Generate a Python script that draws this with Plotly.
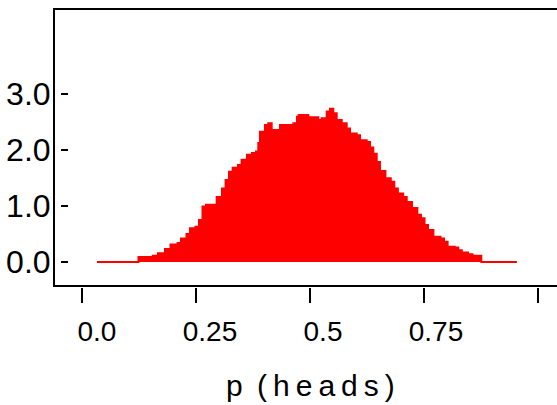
import plotly.graph_objects as go

# Step-density outline (p, density)
p_edges = [0.0, 0.0918, 0.1235, 0.135, 0.1504, 0.1626, 0.1783, 0.1858, 0.198, 0.2058,
           0.2177, 0.2257, 0.2334, 0.2412, 0.2648, 0.2765, 0.2845, 0.292, 0.3002, 0.3119,
           0.3199, 0.3319, 0.3429, 0.3518, 0.3569, 0.3606, 0.3717, 0.379, 0.3865, 0.4049,
           0.4343, 0.4425, 0.446, 0.4675, 0.4896, 0.4971, 0.5082, 0.5155, 0.5228, 0.5303,
           0.5414, 0.5524, 0.5597, 0.5746, 0.5819, 0.5967, 0.604, 0.6113, 0.6188, 0.6261,
           0.6381, 0.65, 0.6577, 0.6657, 0.6774, 0.6852, 0.6969, 0.7088, 0.7168, 0.7246,
           0.7323, 0.7442, 0.76, 0.7677, 0.7757, 0.7914, 0.7993, 0.8071, 0.8208, 0.8308,
           0.8502, 0.929]
density = [0.0, 0.09, 0.11, 0.155, 0.23, 0.31, 0.34, 0.42, 0.50, 0.60,
           0.63, 0.75, 0.99, 1.02, 1.16, 1.31, 1.46, 1.61, 1.68, 1.73,
           1.82, 1.91, 1.94, 1.97, 2.12, 2.32, 2.44, 2.47, 2.35, 2.44,
           2.47, 2.59, 2.62, 2.58, 2.53, 2.56, 2.68, 2.73, 2.65, 2.53,
           2.47, 2.38, 2.29, 2.26, 2.17, 2.14, 2.04, 1.93, 1.78, 1.62,
           1.49, 1.43, 1.31, 1.22, 1.16, 1.07, 0.96, 0.84, 0.78, 0.66,
           0.57, 0.45, 0.42, 0.36, 0.27, 0.26, 0.21, 0.17, 0.14, 0.11,
           0.0, 0.0]

x_tickvals = [0.0, 0.25, 0.5, 0.75]
x_ticktext = ["0.0", "0.25", "0.5", "0.75"]
y_tickvals = [0.0, 1.0, 2.0, 3.0]
y_ticktext = ["0.0", "1.0", "2.0", "3.0"]
x_title = "p \u2009(\u2009h\u2009e\u2009a\u2009d\u2009s\u2009)"

FONT = "Liberation Sans, Arial, sans-serif"
XR = [-0.0929, 1.0177]
YR = [-0.41, 4.49]

fig = go.Figure()
fig.add_trace(go.Scatter(
    x=p_edges, y=density, mode="lines", line=dict(color="#ff0000", width=2, shape="hv"),
    fill="tozeroy", fillcolor="#ff0000", hoverinfo="skip", showlegend=False))
# invisible helper traces for the tick-only axes
fig.add_trace(go.Scatter(x=[0.5], y=[0], xaxis="x2", yaxis="y", mode="markers",
                         marker=dict(opacity=0), showlegend=False, hoverinfo="skip"))
fig.add_trace(go.Scatter(x=[0.5], y=[0], xaxis="x", yaxis="y2", mode="markers",
                         marker=dict(opacity=0), showlegend=False, hoverinfo="skip"))

fig.update_layout(
    width=557, height=405,
    margin=dict(l=55, r=0, t=10, b=118),
    paper_bgcolor="white", plot_bgcolor="white",
    font=dict(family=FONT, color="black"),
    xaxis=dict(range=XR, showgrid=False, zeroline=False, showline=True, mirror=True,
               linecolor="black", linewidth=2, ticks="", tickvals=x_tickvals,
               ticktext=x_ticktext, tickfont=dict(size=28, family=FONT),
               ticklabelstandoff=20, anchor="y"),
    xaxis2=dict(range=XR, overlaying="x", anchor="free", position=0, side="bottom",
                showgrid=False, zeroline=False, showline=False, showticklabels=False,
                ticks="outside", ticklen=15, tickwidth=2, tickcolor="black",
                tickmode="linear", tick0=-0.033, dtick=0.2522),
    yaxis=dict(range=YR, domain=[0.0072, 1], showgrid=False, zeroline=False, showline=True,
               linecolor="black", linewidth=2, ticks="", tickvals=y_tickvals,
               ticktext=y_ticktext, tickfont=dict(size=32, family=FONT),
               ticklabelstandoff=-4),
    yaxis2=dict(range=YR, overlaying="y", anchor="free", position=0.01, side="left",
                showgrid=False, zeroline=False, showline=False, showticklabels=False,
                ticks="inside", ticklen=7, tickwidth=2, tickcolor="black",
                tickvals=y_tickvals),
    annotations=[dict(text=x_title, xref="paper", yref="paper", x=0.508, y=-0.357,
                      xanchor="center", yanchor="middle", showarrow=False,
                      font=dict(size=30, family=FONT, color="black"))],
)

fig.write_html("out.html")
